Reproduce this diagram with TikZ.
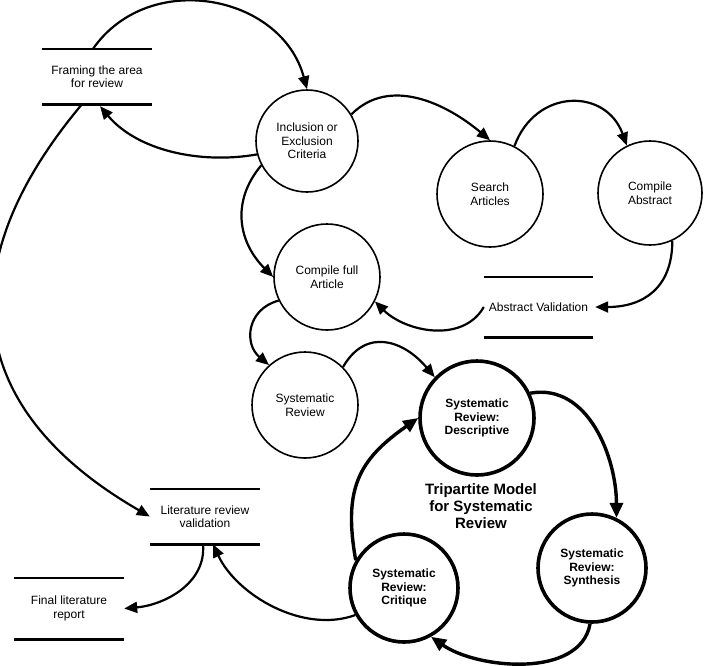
\documentclass[tikz,border=0pt]{standalone}
\usepackage{fontspec}
\setmainfont{Liberation Sans}
\usetikzlibrary{arrows.meta}

\begin{document}
\begin{tikzpicture}[
        x=1pt, y=1pt,
        process/.style={circle, draw, line width=1.6pt, inner sep=1pt, align=center, font=\fontsize{12}{13.5}\selectfont},
        model/.style={process, line width=3.6pt, font=\fontsize{12}{13.5}\selectfont\bfseries},
        store/.style={rectangle, inner sep=0pt, minimum width=110pt, minimum height=55pt, align=center, font=\fontsize{12}{13.5}\selectfont},
        storeline/.style={line width=2.6pt},
        arrow/.style={-{Triangle[length=13pt, width=11pt]}, line width=2.2pt},
        bigarrow/.style={-{Triangle[length=15pt, width=13pt]}, line width=3.4pt}
    ]
    \useasboundingbox (0,0) rectangle (708,-665);

    % Data stores
    \node[store] (fr) at (97,-76.5) {Framing the area\\for review};
    \node[store, minimum width=109pt, minimum height=60pt] (av) at (538.5,-307) {Abstract Validation};
    \node[store] (lrv) at (205,-516.5) {Literature review\\validation};
    \node[store, minimum height=61pt] (flr) at (69,-608.5) {Final literature\\report};
    \foreach \s in {fr, av, lrv, flr}
        \draw[storeline] (\s.north west) -- (\s.north east) (\s.south west) -- (\s.south east);

    % Processes
    \node[process, minimum size=102pt] (inc) at (307,-141) {Inclusion or\\Exclusion\\Criteria};
    \node[process, minimum size=106pt] (sa) at (490,-194) {Search\\Articles};
    \node[process, minimum size=104pt] (ca) at (650,-193) {Compile\\Abstract};
    \node[process, minimum size=106pt] (cfa) at (327,-277) {Compile full\\Article};
    \node[process, minimum size=106pt] (sr) at (305,-405) {Systematic\\Review};

    % Tripartite model
    \node[model, minimum size=114pt] (srd) at (477,-418) {Systematic\\Review:\\Descriptive};
    \node[model, minimum size=108pt] (srs) at (592,-568) {Systematic\\Review:\\Synthesis};
    \node[model, minimum size=108pt] (src) at (404,-588) {Systematic\\Review:\\Critique};
    \node[align=center, font=\fontsize{15}{16.7}\selectfont\bfseries] (tri) at (481,-506) {Tripartite Model\\for Systematic\\Review};

    % Arrows
    \draw[arrow] ([xshift=-4pt]fr.north) to[out=55, in=105, looseness=1.15] (inc.north);
    \draw[arrow] (inc.195) to[out=190, in=-50, looseness=0.9] ([xshift=3pt, yshift=-2pt]fr.south);
    \draw[arrow] ([xshift=-15pt]fr.south) to[out=230, in=150, looseness=1.3] (lrv.west);
    \draw[arrow] (inc.31) to[out=45, in=140] (sa.north);
    \draw[arrow] (sa.63) to[out=70, in=110, looseness=1.4] (ca.116);
    \draw[arrow] (ca.295) to[out=-90, in=0, looseness=1.2] ([xshift=2pt]av.east);
    \draw[arrow] (av.west) to[out=240, in=-45] (cfa.-27);
    \draw[arrow] (inc.208) to[out=230, in=135, looseness=1.1] (cfa.west);
    \draw[arrow] (cfa.206) to[out=195, in=140, looseness=1.3] (sr.132);
    \draw[arrow] (sr.45) to[out=60, in=130, looseness=1.3] (srd.136);

    % Model cycle
    \draw[bigarrow] (srd.25) to[out=10, in=90] (srs.64);
    \draw[bigarrow] (srs.268) to[out=-100, in=-35, looseness=0.9] (src.-61);
    \draw[bigarrow] (src.150) to[out=100, in=215, looseness=1.2] (srd.west);

    % Validation and report
    \draw[arrow] (src.209) to[out=200, in=-65, looseness=0.9] ([xshift=8pt]lrv.south);
    \draw[arrow] ([xshift=-2pt]lrv.south) to[out=-85, in=5] (flr.east);

\end{tikzpicture}
\end{document}
